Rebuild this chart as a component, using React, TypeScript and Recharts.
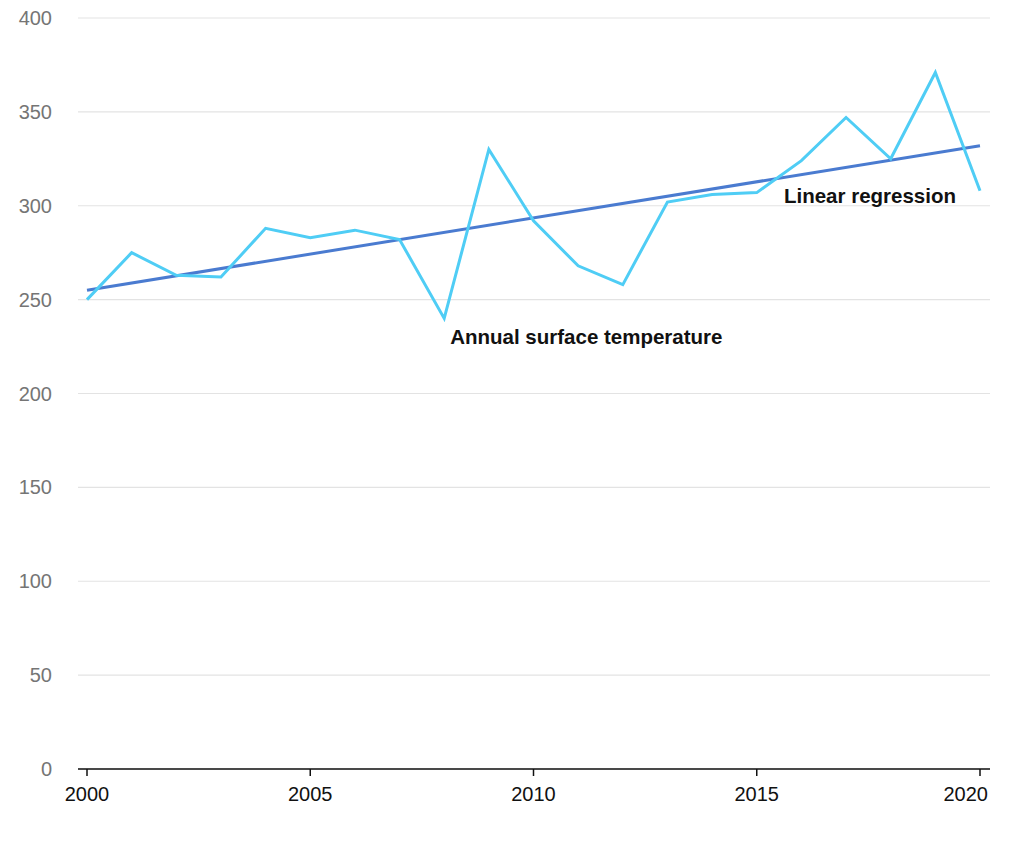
import React from "react";
import { LineChart, Line, XAxis, YAxis, CartesianGrid, LabelList } from "recharts";

const years = [2000, 2001, 2002, 2003, 2004, 2005, 2006, 2007, 2008, 2009, 2010, 2011, 2012, 2013, 2014, 2015, 2016, 2017, 2018, 2019, 2020];
const temperature = [250, 275, 263, 262, 288, 283, 287, 282, 240, 330, 292, 268, 258, 302, 306, 307, 324, 347, 325, 371, 308];
// regression is only known at its two ends
const regressionStart = 255;
const regressionEnd = 332;
const xTicks = [2000, 2005, 2010, 2015, 2020];
const yTicks = [0, 50, 100, 150, 200, 250, 300, 350, 400];

const data = years.map((year, i) => ({
  year,
  temperature: temperature[i],
  regression: i === 0 ? regressionStart : i === years.length - 1 ? regressionEnd : null,
}));

const labelStyle = { fontFamily: "Liberation Sans, Arial, sans-serif", fontSize: 20.5, fontWeight: 700, fill: "#111" };

function TempLabel(props: any) {
  const { x, y, index } = props;
  if (index !== 8) return null;
  return (
    <text x={x + 6} y={y + 26} style={labelStyle}>
      Annual surface temperature
    </text>
  );
}

function RegressionLabel(props: any) {
  const { x, y, index } = props;
  if (index !== years.length - 1) return null;
  return (
    <text x={x - 24} y={y + 57} textAnchor="end" style={labelStyle}>
      Linear regression
    </text>
  );
}

// last year label is pulled in so it stays inside the chart edge
function YearTick(props: any) {
  const { x, y, payload } = props;
  const last = payload.value === xTicks[xTicks.length - 1];
  return (
    <text
      x={last ? x + 8 : x}
      y={y + 21}
      textAnchor={last ? "end" : "middle"}
      fill="#111"
      fontSize={20}
    >
      {payload.value}
    </text>
  );
}

export default function App() {
  return (
    <div style={{ position: "absolute", left: 0, top: 0, fontFamily: "Liberation Sans, Arial, sans-serif" }}>
      <LineChart width={1024} height={853} data={data} margin={{ top: 18, right: 34, bottom: 54, left: 0 }}>
        <CartesianGrid vertical={false} stroke="#e3e3e3" strokeWidth={1.2} />
        <XAxis
          dataKey="year"
          type="number"
          domain={[2000, 2020]}
          ticks={xTicks}
          padding={{ left: 9, right: 10 }}
          stroke="#111"
          strokeWidth={1.5}
          tickSize={7}
          tickMargin={4}
          tick={<YearTick />}
        />
        <YAxis
          domain={[0, 400]}
          ticks={yTicks}
          width={78}
          axisLine={false}
          tickLine={false}
          tickSize={0}
          tickMargin={26}
          tick={{ fill: "#757575", fontSize: 20 }}
        />
        <Line
          dataKey="regression"
          stroke="#4a7bd0"
          strokeWidth={3}
          dot={false}
          connectNulls
          isAnimationActive={false}
        >
          <LabelList dataKey="regression" content={RegressionLabel} />
        </Line>
        <Line
          dataKey="temperature"
          stroke="#4fcdf5"
          strokeWidth={3}
          dot={false}
          type="linear"
          isAnimationActive={false}
        >
          <LabelList dataKey="temperature" content={TempLabel} />
        </Line>
      </LineChart>
    </div>
  );
}
